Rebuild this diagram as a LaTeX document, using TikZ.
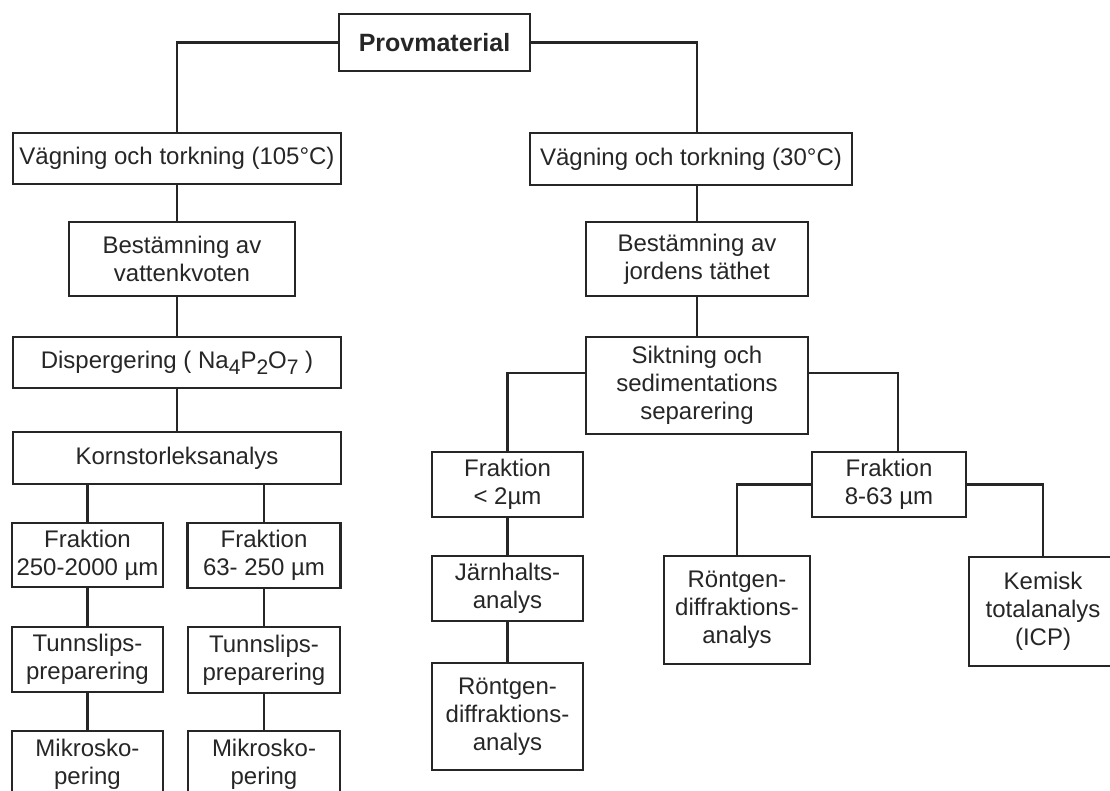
\documentclass[tikz,border=0pt]{standalone}
\usepackage{fontspec}
\setmainfont{Liberation Sans}
\newcommand{\lowidx}[1]{\raisebox{-6pt}{\fontsize{21}{21}\selectfont #1}}

\begin{document}
\begin{tikzpicture}[
  x=1pt, y=-1pt,
  every node/.style={inner sep=1pt, text=black!85},
  box/.style={draw=black!85, line width=2.6pt, align=center, font=\fontsize{24}{28}\selectfont},
  link/.style={draw=black!85, line width=2.6pt}
]
\path[use as bounding box, fill=white] (0,0) rectangle (1110,791);

\node[box, minimum width=191pt, minimum height=57pt, font=\fontsize{25}{28}\selectfont\bfseries] (prov) at (434.5,42.5) {Provmaterial};

\node[box, minimum width=328pt, minimum height=51pt] (torkA) at (177,158.5) {Vägning och torkning (105°C)};
\node[box, minimum width=226pt, minimum height=74pt] (vatten) at (182,259) {Bestämning av\\vattenkvoten};
\node[box, minimum width=328pt, minimum height=51pt] (disp) at (177,362.5) {Dispergering ( Na\lowidx{4}P\lowidx{2}O\lowidx{7} )};
\node[box, minimum width=328pt, minimum height=52pt] (korn) at (177,458) {Kornstorleksanalys};
\node[box, minimum width=151pt, minimum height=64pt] (frGrov) at (87.5,555) {Fraktion\\250-2000 µm};
\node[box, minimum width=153pt, minimum height=65pt] (frMellan) at (264,555.5) {Fraktion\\63- 250 µm};
\node[box, minimum width=151pt, minimum height=65pt] (tunnA) at (87.5,659.5) {Tunnslips-\\preparering};
\node[box, minimum width=152pt, minimum height=66pt] (tunnB) at (264,660) {Tunnslips-\\preparering};
\node[box, minimum width=151pt, minimum height=66pt] (mikA) at (87.5,764) {Mikrosko-\\pering};
\node[box, minimum width=152pt, minimum height=66pt] (mikB) at (264,764) {Mikrosko-\\pering};

\node[box, minimum width=322pt, minimum height=52pt] (torkB) at (691,159) {Vägning och torkning (30°C)};
\node[box, minimum width=222pt, minimum height=74pt] (tathet) at (697,259) {Bestämning av\\jordens täthet};
\node[box, minimum width=222pt, minimum height=97pt] (sikt) at (697,385.5) {Siktning och\\sedimentations\\separering};
\node[box, minimum width=151pt, minimum height=65pt] (frLer) at (507.5,484.5) {Fraktion\\< 2µm};
\node[box, minimum width=151pt, minimum height=65pt] (jarn) at (507.5,588.5) {Järnhalts-\\analys};
\node[box, minimum width=151pt, minimum height=107pt] (rontA) at (507.5,716.5) {Röntgen-\\diffraktions-\\analys};
\node[box, minimum width=154pt, minimum height=65pt] (frSilt) at (889,484.5) {Fraktion\\8-63 µm};
\node[box, minimum width=146pt, minimum height=108pt] (rontB) at (737,610) {Röntgen-\\diffraktions-\\analys};
\node[box, minimum width=148pt, minimum height=109pt] (kemisk) at (1043,611.5) {Kemisk\\totalanalys\\(ICP)};

\draw[link] (prov.west) -| (torkA.north);
\draw[link] (prov.east) -| (tathet.north |- torkB.north);
\draw[link] (torkA.south) -- (torkA.south |- vatten.north);
\draw[link] (torkA.south |- vatten.south) -- (disp.north);
\draw[link] (disp.south) -- (korn.north);
\draw[link] (korn.south -| frGrov) -- (frGrov.north);
\draw[link] (korn.south -| frMellan) -- (frMellan.north);
\draw[link] (frGrov) -- (tunnA) -- (mikA);
\draw[link] (frMellan) -- (tunnB) -- (mikB);

\draw[link] (torkB.south -| tathet) -- (tathet.north);
\draw[link] (tathet) -- (sikt);
\draw[link] ([yshift=12.5pt]sikt.west) -| (frLer.north);
\draw[link] ([yshift=12.5pt]sikt.east) -| ([xshift=9pt]frSilt.north);
\draw[link] (frLer) -- (jarn) -- (rontA);
\draw[link] (frSilt.west) -| (rontB.north);
\draw[link] (frSilt.east) -| (kemisk.north);
\end{tikzpicture}
\end{document}
